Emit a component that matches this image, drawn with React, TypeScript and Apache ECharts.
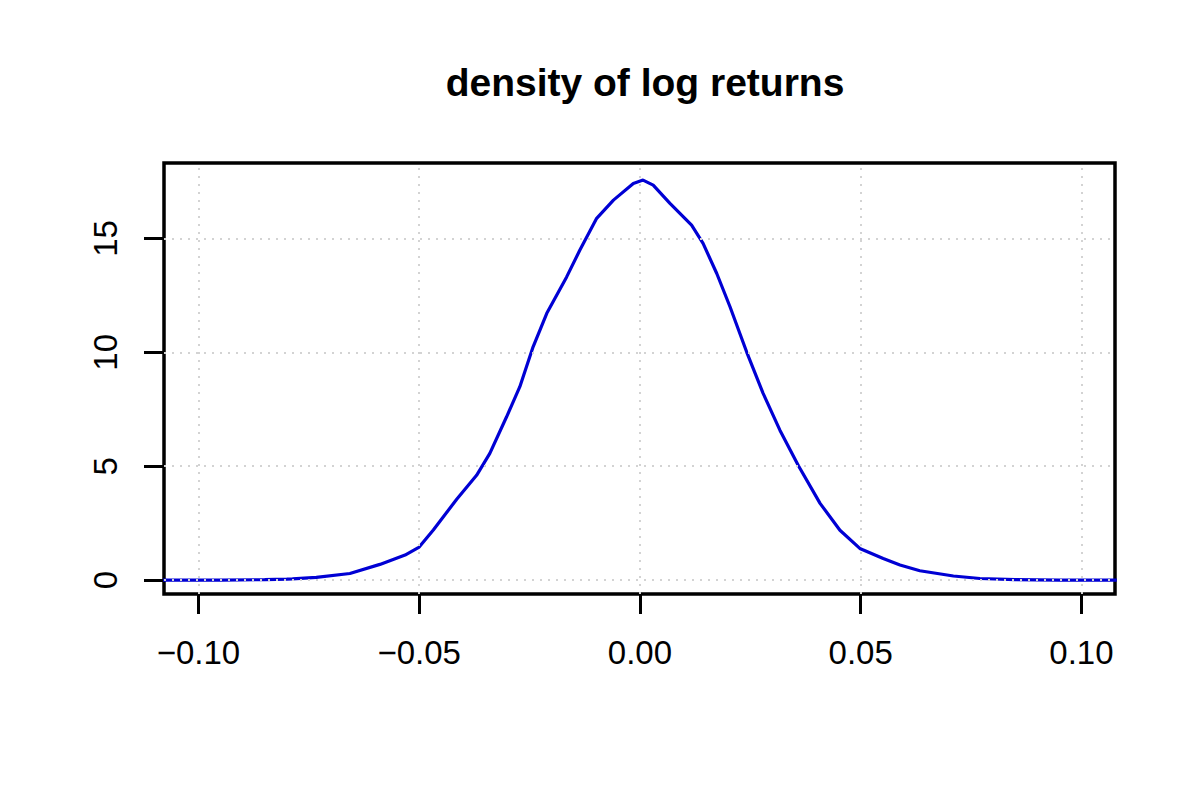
import React, { useEffect, useRef } from "react";
import * as echarts from "echarts";

const titleText = "density of log returns";

const logReturns = [
  -0.108, -0.095, -0.085, -0.08, -0.0787, -0.0733, -0.0657, -0.0589, -0.0532, -0.05,
  -0.0468, -0.0415, -0.037, -0.034, -0.0302, -0.0272, -0.0242, -0.0211, -0.0166, -0.0136,
  -0.0098, -0.006, -0.0015, 0.0007, 0.003, 0.0068, 0.0117, 0.0143, 0.0174, 0.0204,
  0.0242, 0.0279, 0.0317, 0.0359, 0.0408, 0.0453, 0.0498, 0.0551, 0.0589, 0.0634,
  0.071, 0.077, 0.085, 0.095, 0.108,
];

const densityValues = [
  0.0, 0.0, 0.02, 0.04, 0.05, 0.12, 0.29, 0.69, 1.1, 1.45,
  2.2, 3.55, 4.6, 5.56, 7.17, 8.49, 10.24, 11.71, 13.31, 14.49,
  15.88, 16.68, 17.41, 17.56, 17.34, 16.54, 15.58, 14.78, 13.46, 12.0,
  10.0, 8.2, 6.58, 5.02, 3.37, 2.19, 1.39, 0.95, 0.66, 0.41,
  0.18, 0.07, 0.02, 0.0, 0.0,
];

const xTicks = [-0.1, -0.05, 0, 0.05, 0.1];
const yTicks = [0, 5, 10, 15];

const FONT = "'Liberation Sans', Arial, Helvetica, sans-serif";

export default function App() {
  const ref = useRef<HTMLDivElement>(null);

  useEffect(() => {
    if (!ref.current) return;
    const chart = echarts.init(ref.current, null, { renderer: "svg" });
    const points = logReturns.map((x, i) => [x, densityValues[i]]);
    const gridStyle = { color: "#d3d3d3", type: [2, 6] as any, width: 2 };

    chart.setOption({
      animation: false,
      backgroundColor: "#ffffff",
      title: {
        text: titleText,
        left: 640,
        top: 58,
        textAlign: "center",
        textStyle: { fontFamily: FONT, fontSize: 39, fontWeight: "bold", color: "#000" },
      },
      grid: {
        left: 164,
        right: 85,
        top: 163,
        bottom: 206,
        show: true,
        borderColor: "#000",
        borderWidth: 3.5,
        backgroundColor: "transparent",
        containLabel: false,
      },
      xAxis: {
        type: "value",
        min: -0.1078,
        max: 0.1076,
        axisLine: { show: false, onZero: false },
        splitLine: { show: false },
        axisTick: {
          show: true,
          inside: false,
          length: 20,
          lineStyle: { color: "#000", width: 3 },
          customValues: xTicks,
        },
        axisLabel: {
          show: true,
          margin: 42,
          fontFamily: FONT,
          fontSize: 33,
          color: "#000",
          customValues: xTicks,
          formatter: (v: number) => (v < 0 ? "\u2212" + Math.abs(v).toFixed(2) : v.toFixed(2)),
        },
      },
      yAxis: {
        type: "value",
        min: -0.61,
        max: 18.31,
        axisLine: { show: false, onZero: false },
        splitLine: { show: false },
        axisTick: {
          show: true,
          inside: false,
          length: 20,
          lineStyle: { color: "#000", width: 3 },
          customValues: yTicks,
        },
        axisLabel: {
          show: true,
          rotate: 90,
          margin: 42,
          fontFamily: FONT,
          fontSize: 33,
          color: "#000",
          customValues: yTicks,
          formatter: (v: number) => String(v),
        },
      },
      series: [
        {
          type: "line",
          data: points,
          showSymbol: false,
          symbol: "none",
          smooth: false,
          lineStyle: { color: "#0000d4", width: 3.2 },
          markLine: {
            silent: true,
            symbol: "none",
            label: { show: false },
            lineStyle: gridStyle,
            data: [
              ...xTicks.map((x) => ({ xAxis: x })),
              ...yTicks.map((y) => ({ yAxis: y })),
            ],
          },
        },
      ],
    });

    return () => chart.dispose();
  }, []);

  return (
    <div
      ref={ref}
      style={{ position: "fixed", left: 0, top: 0, width: 1200, height: 800, background: "#fff" }}
    />
  );
}
